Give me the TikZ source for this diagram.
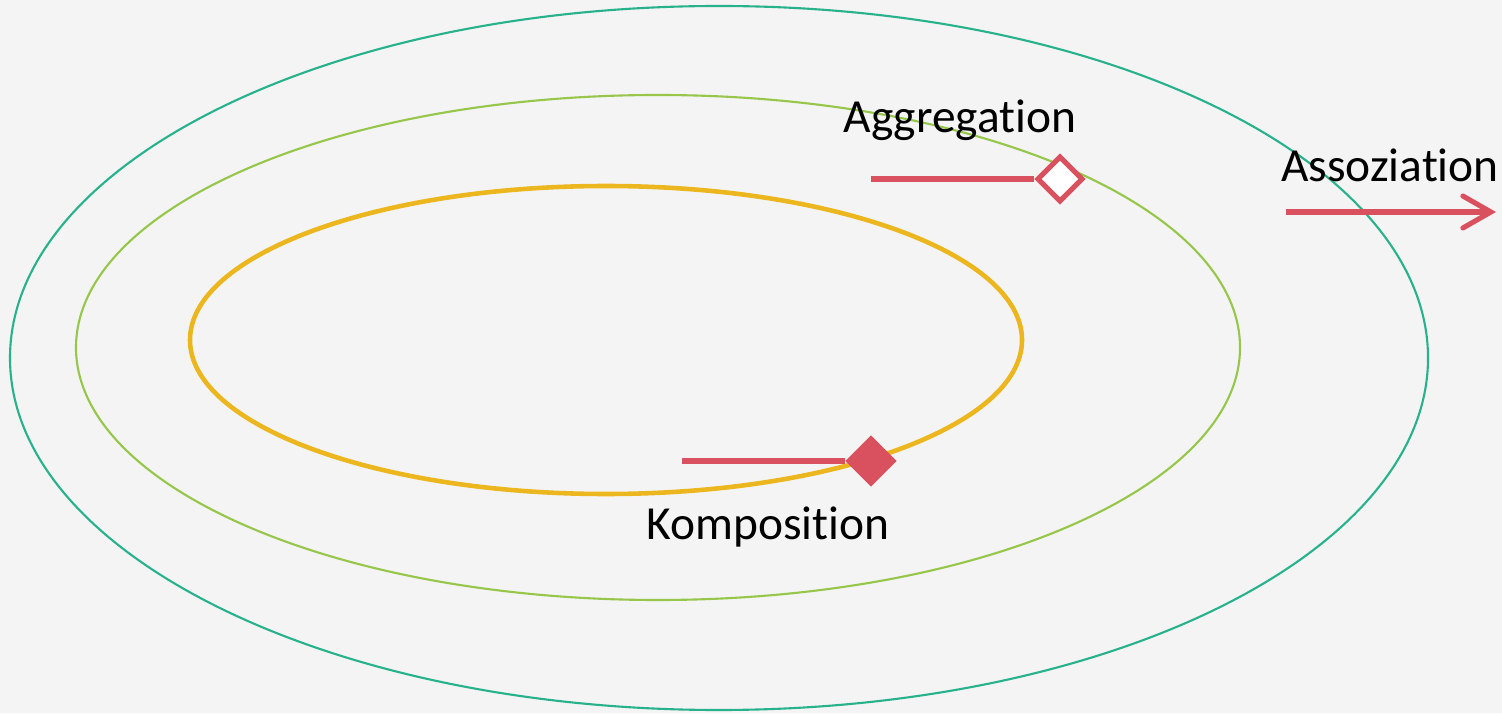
\documentclass[tikz,border=0pt]{standalone}
\usepackage{fontspec}
\setmainfont[Ligatures=NoCommon]{Carlito}
\usetikzlibrary{shapes.geometric,arrows.meta}

\definecolor{bgGray}{RGB}{244,244,244}
\definecolor{ringTeal}{RGB}{40,178,140}
\definecolor{ringLime}{RGB}{150,198,74}
\definecolor{ringGold}{RGB}{236,182,30}
\definecolor{relRed}{RGB}{217,80,94}

\tikzset{
  lbl/.style={font=\fontsize{13.5}{16}\selectfont, black},
  rel/.style={relRed, line width=1.45pt},
  dia/.style={diamond, draw=relRed, line width=1.45pt, inner sep=0pt, minimum size=0.46cm}
}

\begin{document}
\begin{tikzpicture}

% ── Canvas ──
\useasboundingbox (0,0) rectangle (15.02,7.13);
\fill[bgGray] (0,0) rectangle (15.02,7.13);

% ── Rings ──
\draw[ringTeal, line width=0.6pt] (7.19,3.55) ellipse (7.09 and 3.52);
\draw[ringLime, line width=0.6pt] (6.58,3.655) ellipse (5.82 and 2.525);
\draw[ringGold, line width=1.3pt] (6.06,3.73) ellipse (4.16 and 1.54);

% ── Aggregation ──
\node[dia, fill=white] (aggDia) at (10.60,5.34) {};
\coordinate (aggEnd) at (8.71,5.34);
\draw[rel] (aggEnd) -- (aggDia.west);
\node[lbl] (aggLbl) at (9.60,5.93) {Aggregation};

% ── Komposition ──
\node[dia, fill=relRed] (kompDia) at (8.71,2.52) {};
\coordinate (kompEnd) at (6.82,2.52);
\draw[rel] (kompEnd) -- (kompDia.west);
\node[lbl] (kompLbl) at (7.68,1.86) {Komposition};

% ── Assoziation ──
\coordinate (assStart) at (12.86,5.01);
\coordinate (assEnd) at (14.96,5.01);
\draw[rel, -{Straight Barb[length=2.8mm, width=3.2mm, line cap=round]}] (assStart) -- (assEnd);
\node[lbl] (assLbl) at (13.90,5.48) {Assoziation};

\end{tikzpicture}
\end{document}
